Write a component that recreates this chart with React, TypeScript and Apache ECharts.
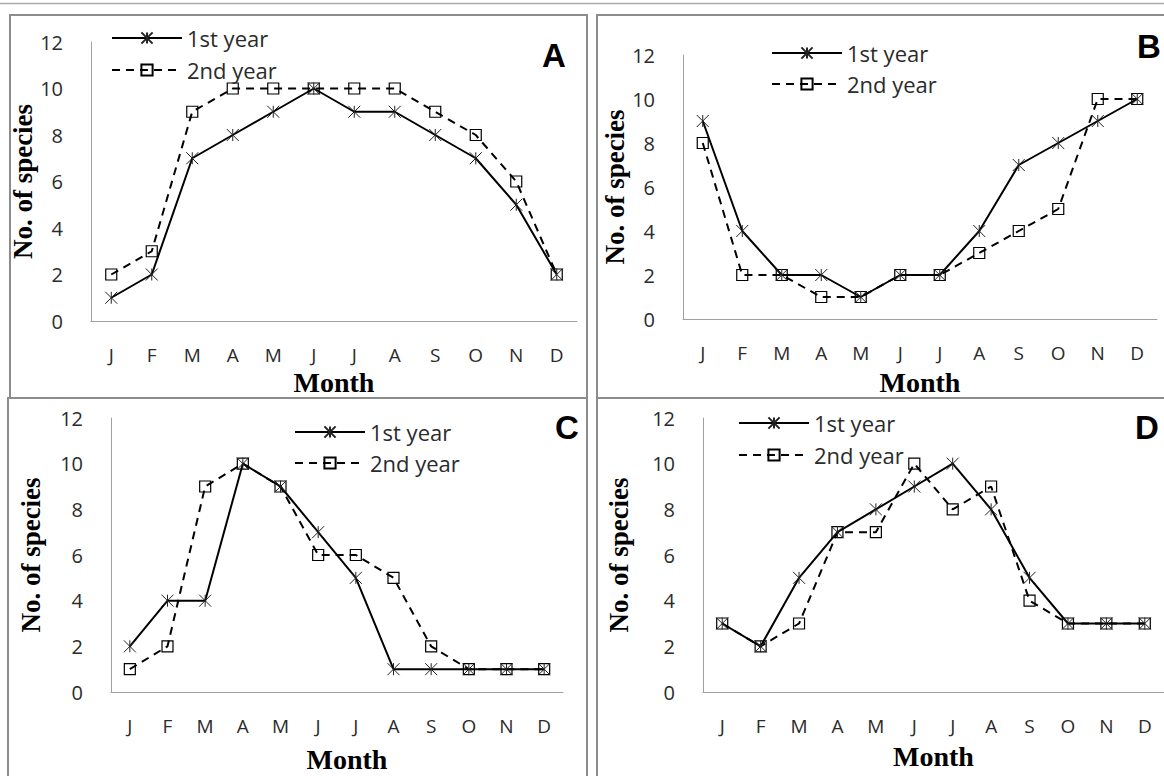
import React, { useEffect, useRef } from "react";
import * as echarts from "echarts";

const months = ["J", "F", "M", "A", "M", "J", "J", "A", "S", "O", "N", "D"];
const seriesNames = ["1st year", "2nd year"];
const panelLetters = ["A", "B", "C", "D"];
const yMin = 0;
const yMax = 12;
const yStep = 2;

const a1st = [1, 2, 7, 8, 9, 10, 9, 9, 8, 7, 5, 2];
const a2nd = [2, 3, 9, 10, 10, 10, 10, 10, 9, 8, 6, 2];
const b1st = [9, 4, 2, 2, 1, 2, 2, 4, 7, 8, 9, 10];
const b2nd = [8, 2, 2, 1, 1, 2, 2, 3, 4, 5, 10, 10];
const c1st = [2, 4, 4, 10, 9, 7, 5, 1, 1, 1, 1, 1];
const c2nd = [1, 2, 9, 10, 9, 6, 6, 5, 2, 1, 1, 1];
const d1st = [3, 2, 5, 7, 8, 9, 10, 8, 5, 3, 3, 3];
const d2nd = [3, 2, 3, 7, 7, 10, 8, 9, 4, 3, 3, 3];

const panelData = [
  [a1st, a2nd],
  [b1st, b2nd],
  [c1st, c2nd],
  [d1st, d2nd],
];

const layouts = [
  { left: 91, top: 42, width: 486, height: 279, yGap: 43, xGap: 47, monthPad: [0, 0, 0, 0], lgLeft: 111, lgTop: 27, lgGap: 10, letter: [554, 55] },
  { left: 683, top: 55, width: 474, height: 264, yGap: 49, xGap: 49, monthPad: [0, 0, 0, 0], lgLeft: 771, lgTop: 42, lgGap: 9, letter: [1149, 46] },
  { left: 111, top: 418, width: 452, height: 274, yGap: 67, xGap: 53, monthPad: [0, 0, 0, 20], lgLeft: 294, lgTop: 421, lgGap: 9, letter: [567, 427] },
  { left: 703, top: 418, width: 462, height: 274, yGap: 71, xGap: 50, monthPad: [0, 0, 0, 0], lgLeft: 738, lgTop: 412, lgGap: 10, letter: [1147, 427] },
];

const ASTERISK = "path://M5,0L5,10M0,0L10,10M0,10L10,0";
const TICK_FONT = "'Open Sans', sans-serif";
const TITLE_FONT = "'Liberation Serif', 'Times New Roman', serif";

export default function App() {
  const ref = useRef<HTMLDivElement>(null);

  useEffect(() => {
    if (!ref.current) return;
    const chart = echarts.init(ref.current, undefined, { renderer: "svg" });

    const grid: any[] = [];
    const xAxis: any[] = [];
    const yAxis: any[] = [];
    const series: any[] = [];
    const legend: any[] = [];
    const graphic: any[] = [];

    graphic.push({ type: "line", shape: { x1: 0, y1: 3.5, x2: 1164, y2: 3.5 }, style: { stroke: "#aaa", lineWidth: 1.5 }, silent: true });
    const frames = [
      [10, 15, 577, 383],
      [597, 15, 590, 383],
      [8, 398, 579, 400],
      [597, 398, 590, 400],
    ];
    frames.forEach(([x, y, w, h]) => {
      graphic.push({ type: "rect", shape: { x, y, width: w, height: h }, style: { fill: "none", stroke: "#8c8c8c", lineWidth: 2 }, silent: true });
    });

    layouts.forEach((L, i) => {
      grid.push({ left: L.left, top: L.top, width: L.width, height: L.height, containLabel: false });
      xAxis.push({
        type: "category",
        gridIndex: i,
        data: months,
        boundaryGap: true,
        axisLine: { show: true, lineStyle: { color: "#a0a0a0", width: 1 } },
        axisTick: { show: false },
        splitLine: { show: false },
        axisLabel: { margin: 24, color: "#2b2b2b", fontSize: 19, fontFamily: TICK_FONT, interval: 0 },
        name: "Month",
        nameLocation: "middle",
        nameGap: L.xGap,
        nameTextStyle: { fontFamily: TITLE_FONT, fontWeight: "bold", fontSize: 28, color: "#000", padding: L.monthPad },
      });
      yAxis.push({
        type: "value",
        gridIndex: i,
        min: yMin,
        max: yMax,
        interval: yStep,
        axisLine: { show: true, lineStyle: { color: "#a0a0a0", width: 1 } },
        axisTick: { show: false },
        splitLine: { show: false },
        axisLabel: { margin: 28, color: "#2b2b2b", fontSize: 20, fontFamily: TICK_FONT },
        name: "No. of species",
        nameLocation: "middle",
        nameRotate: 90,
        nameGap: L.yGap,
        nameTextStyle: { fontFamily: TITLE_FONT, fontWeight: "bold", fontSize: 27, color: "#000" },
      });
      const [s1, s2] = panelData[i];
      series.push({
        type: "line",
        name: seriesNames[1],
        xAxisIndex: i,
        yAxisIndex: i,
        data: s2,
        symbol: "rect",
        symbolSize: 11,
        showAllSymbol: true,
        lineStyle: { color: "#000", width: 2, type: [8, 6] },
        itemStyle: { color: "none", borderColor: "#000", borderWidth: 1.2 },
        emphasis: { disabled: true },
        silent: true,
      });
      series.push({
        type: "line",
        name: seriesNames[0],
        xAxisIndex: i,
        yAxisIndex: i,
        data: s1,
        symbol: ASTERISK,
        symbolSize: 12,
        showAllSymbol: true,
        lineStyle: { color: "#000", width: 2, type: "solid" },
        itemStyle: { color: "#000", borderColor: "#222", borderWidth: 1 },
        emphasis: { disabled: true },
        silent: true,
      });
      legend.push({
        data: seriesNames,
        orient: "vertical",
        left: L.lgLeft,
        top: L.lgTop,
        padding: 0,
        itemWidth: 70,
        itemHeight: 14,
        itemGap: L.lgGap,
        selectedMode: false,
        textStyle: { fontFamily: TICK_FONT, fontSize: 22, color: "#2b2b2b" },
      });
      graphic.push({
        type: "text",
        x: L.letter[0],
        y: L.letter[1],
        style: {
          text: panelLetters[i],
          font: "bold 33px 'Liberation Sans', Arial, sans-serif",
          fill: "#000",
          textAlign: "center",
          textVerticalAlign: "middle",
        },
        silent: true,
      });
    });

    chart.setOption({
      animation: false,
      backgroundColor: "#fff",
      grid,
      xAxis,
      yAxis,
      series,
      legend,
      graphic,
    });

    return () => chart.dispose();
  }, []);

  return (
    <div
      ref={ref}
      style={{ position: "absolute", left: 0, top: 0, width: 1164, height: 776, background: "#fff" }}
    />
  );
}
